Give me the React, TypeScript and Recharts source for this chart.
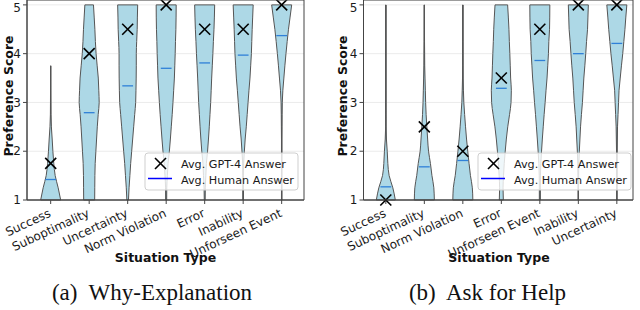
import React from "react";
import {
  Area,
  CartesianGrid,
  ComposedChart,
  ReferenceArea,
  ReferenceDot,
  ReferenceLine,
  XAxis,
  YAxis,
} from "recharts";

const LEVELS = [1, 1.25, 1.5, 1.75, 2, 2.25, 2.5, 2.75, 3, 3.25, 3.5, 3.75, 4, 4.25, 4.5, 4.75, 5];
const SCORE_TICKS = [1, 2, 3, 4, 5];

// (a) Why-Explanation
const WHY_CATS = ["Success", "Suboptimality", "Uncertainty", "Norm Violation", "Error", "Inability", "Unforseen Event"];
const WHY_GPT = [1.75, 4.0, 4.5, 5.0, 4.5, 4.5, 5.0];
const WHY_HUMAN = [1.42, 2.79, 3.34, 3.7, 3.81, 3.97, 4.37];
const WHY_TOP = [3.75, 5, 5, 5, 5, 5, 5];
const WHY_DENSITY: (number | null)[][] = [
  [1.0, 0.75, 0.45, 0.31, 0.22, 0.15, 0.07, 0.03, 0.02, 0.015, 0.01, 0.0, null, null, null, null, null],
  [0.55, 0.56, 0.57, 0.6, 0.67, 0.74, 0.81, 0.9, 1.0, 0.96, 0.91, 0.8, 0.69, 0.62, 0.57, 0.5, 0.43],
  [0.08, 0.14, 0.22, 0.3, 0.4, 0.5, 0.6, 0.7, 0.8, 0.83, 0.85, 0.86, 0.86, 0.9, 0.95, 0.97, 1.0],
  [0.05, 0.06, 0.12, 0.19, 0.32, 0.42, 0.51, 0.6, 0.68, 0.75, 0.82, 0.86, 0.9, 0.93, 0.97, 0.99, 1.0],
  [0.04, 0.06, 0.12, 0.17, 0.29, 0.38, 0.46, 0.53, 0.6, 0.65, 0.7, 0.76, 0.82, 0.87, 0.93, 0.97, 1.0],
  [0.03, 0.03, 0.03, 0.05, 0.12, 0.2, 0.31, 0.4, 0.49, 0.58, 0.68, 0.75, 0.82, 0.86, 0.9, 0.95, 1.0],
  [0.02, 0.02, 0.02, 0.02, 0.02, 0.02, 0.03, 0.04, 0.06, 0.12, 0.22, 0.32, 0.43, 0.55, 0.68, 0.84, 1.0],
];

// (b) Ask for Help
const HELP_CATS = ["Success", "Suboptimality", "Norm Violation", "Error", "Unforseen Event", "Inability", "Uncertainty"];
const HELP_GPT = [1.0, 2.5, 2.0, 3.5, 4.5, 5.0, 5.0];
const HELP_HUMAN = [1.27, 1.68, 1.81, 3.29, 3.86, 4.0, 4.21];
const HELP_TOP = [5, 5, 5, 5, 5, 5, 5];
const HELP_DENSITY: (number | null)[][] = [
  [0.95, 0.7, 0.33, 0.2, 0.14, 0.06, 0.02, 0.015, 0.01, 0.01, 0.01, 0.01, 0.01, 0.01, 0.01, 0.01, 0.01],
  [1.0, 0.95, 0.76, 0.61, 0.42, 0.33, 0.25, 0.18, 0.13, 0.1, 0.07, 0.04, 0.03, 0.02, 0.015, 0.01, 0.01],
  [1.0, 0.95, 0.76, 0.62, 0.49, 0.37, 0.27, 0.18, 0.1, 0.06, 0.03, 0.02, 0.015, 0.01, 0.01, 0.01, 0.01],
  [0.2, 0.17, 0.22, 0.29, 0.39, 0.5, 0.64, 0.82, 0.97, 1.0, 0.93, 0.89, 0.85, 0.8, 0.76, 0.7, 0.63],
  [0.05, 0.05, 0.06, 0.1, 0.17, 0.25, 0.34, 0.43, 0.53, 0.62, 0.72, 0.79, 0.86, 0.9, 0.97, 0.99, 1.0],
  [0.02, 0.02, 0.03, 0.05, 0.1, 0.16, 0.22, 0.31, 0.41, 0.48, 0.55, 0.65, 0.74, 0.82, 0.92, 0.96, 1.0],
  [0.02, 0.02, 0.02, 0.02, 0.03, 0.05, 0.07, 0.12, 0.17, 0.22, 0.34, 0.46, 0.59, 0.7, 0.81, 0.9, 1.0],
];

const HALF = 0.26; // max half-width of a violin, in category units
const FONT = "DejaVu Sans";
const VIOLIN_FILL = "#add8e6";
const VIOLIN_EDGE = "#555";
const HUMAN_BLUE = "#2f80d8";
const SPINE = "#444";

const XMark = ({ cx, cy }: any) => (
  <g stroke="#000" strokeWidth={1.6}>
    <line x1={cx - 5.5} y1={cy - 5.5} x2={cx + 5.5} y2={cy + 5.5} />
    <line x1={cx - 5.5} y1={cy + 5.5} x2={cx + 5.5} y2={cy - 5.5} />
  </g>
);

const SlantTick = ({ x, y, payload, names }: any) => {
  const label = names[Math.round(payload.value) - 1];
  const bx = x + 1;
  const by = y + 10;
  return (
    <text
      x={bx}
      y={by}
      transform={`rotate(-25 ${bx} ${by})`}
      textAnchor="end"
      fontSize={12}
      fontFamily={FONT}
      fill="#1a1a1a"
    >
      {label}
    </text>
  );
};

function ViolinPanel({
  cats,
  gpt,
  human,
  top,
  density,
  xDomain,
  yWidth,
  right,
}: {
  cats: string[];
  gpt: number[];
  human: number[];
  top: number[];
  density: (number | null)[][];
  xDomain: [number, number];
  yWidth: number;
  right: number;
}) {
  const pos = cats.map((_, i) => i + 1);
  // one small table per violin, only where it has data
  const bands = density.map((d, i) =>
    LEVELS.map((y, j) => ({ y, w: d[j] }))
      .filter((r) => r.w != null)
      .map((r) => ({ y: r.y, band: [pos[i] - HALF * (r.w as number), pos[i] + HALF * (r.w as number)] }))
  );

  return (
    <ComposedChart
      layout="vertical"
      width={320}
      height={260}
      data={bands[1]}
      margin={{ top: 0, right, bottom: 0, left: 0 }}
    >
      <CartesianGrid vertical={false} stroke="#ebebeb" />
      {pos.map((c, i) => (
        <ReferenceLine
          key={`w${i}`}
          segment={[{ x: c, y: 1 }, { x: c, y: top[i] }]}
          stroke="#111"
          strokeWidth={1.1}
          zIndex={50}
        />
      ))}
      {pos.map((_, i) => (
        <Area
          key={`v${i}`}
          data={bands[i]}
          dataKey="band"
          type="monotoneY"
          fill={VIOLIN_FILL}
          fillOpacity={1}
          stroke={VIOLIN_EDGE}
          strokeWidth={1}
          dot={false}
          activeDot={false}
          isAnimationActive={false}
        />
      ))}
      {pos.map((c, i) => {
        const d = density[i];
        const lo = d[0] ?? 0;
        const hi = d[LEVELS.indexOf(top[i])] ?? 0;
        return (
          <React.Fragment key={`cap${i}`}>
            <ReferenceLine
              segment={[{ x: c - HALF * lo, y: 1 }, { x: c + HALF * lo, y: 1 }]}
              stroke={VIOLIN_EDGE}
              zIndex={650}
            />
            <ReferenceLine
              segment={[{ x: c - HALF * hi, y: top[i] }, { x: c + HALF * hi, y: top[i] }]}
              stroke={VIOLIN_EDGE}
              zIndex={650}
            />
          </React.Fragment>
        );
      })}
      {pos.map((c, i) => (
        <ReferenceLine
          key={`h${i}`}
          segment={[{ x: c - 0.14, y: human[i] }, { x: c + 0.14, y: human[i] }]}
          stroke={HUMAN_BLUE}
          strokeWidth={1.3}
          zIndex={700}
        />
      ))}
      {pos.map((c, i) => (
        <ReferenceDot key={`g${i}`} x={c} y={gpt[i]} r={5} shape={XMark} zIndex={750} />
      ))}
      <XAxis
        type="number"
        domain={xDomain}
        ticks={pos}
        interval={0}
        allowDataOverflow
        height={60}
        tickSize={4}
        axisLine={{ stroke: SPINE }}
        tickLine={{ stroke: SPINE }}
        tick={(p: any) => <SlantTick {...p} names={cats} />}
      />
      <YAxis
        type="number"
        dataKey="y"
        domain={[1, 5.1]}
        reversed
        ticks={SCORE_TICKS}
        allowDataOverflow
        width={yWidth}
        tickSize={4}
        axisLine={{ stroke: SPINE }}
        tickLine={{ stroke: SPINE }}
        tick={{ fontSize: 12, fill: "#1a1a1a", fontFamily: FONT }}
      />
      <ReferenceArea
        x1={xDomain[0]}
        x2={xDomain[1]}
        y1={1}
        y2={5.1}
        fill="none"
        stroke={SPINE}
        strokeWidth={1}
        zIndex={800}
      />
    </ComposedChart>
  );
}

function LegendBox({ x }: { x: number }) {
  return (
    <g fontFamily={FONT} fontSize={11.2} fill="#1a1a1a">
      <rect x={x} y={153} width={153} height={37} rx={3} fill="rgba(255,255,255,0.8)" stroke="#cfcfcf" />
      <XMark cx={x + 15.5} cy={163.5} />
      <text x={x + 36} y={168}>Avg. GPT-4 Answer</text>
      <line x1={x + 3} y1={178.5} x2={x + 27} y2={178.5} stroke="blue" strokeWidth={1.5} />
      <text x={x + 36} y={184}>Avg. Human Answer</text>
    </g>
  );
}

export default function App() {
  return (
    <div style={{ position: "absolute", left: 0, top: 0, width: 640, height: 310, background: "#fff", fontFamily: FONT }}>
      <div style={{ position: "absolute", left: 0, top: 0 }}>
        <ViolinPanel
          cats={WHY_CATS}
          gpt={WHY_GPT}
          human={WHY_HUMAN}
          top={WHY_TOP}
          density={WHY_DENSITY}
          xDomain={[0.385, 7.58]}
          yWidth={27}
          right={16}
        />
      </div>
      <div style={{ position: "absolute", left: 320, top: 0 }}>
        <ViolinPanel
          cats={HELP_CATS}
          gpt={HELP_GPT}
          human={HELP_HUMAN}
          top={HELP_TOP}
          density={HELP_DENSITY}
          xDomain={[0.42, 7.42]}
          yWidth={43.5}
          right={7}
        />
      </div>
      <svg width={640} height={310} style={{ position: "absolute", left: 0, top: 0, pointerEvents: "none" }}>
        <LegendBox x={145} />
        <LegendBox x={478} />
        <g fontFamily={FONT} fontWeight="bold" fontSize={12.5} fill="#111" textAnchor="middle">
          <text x={12.5} y={96} transform="rotate(-90 12.5 96)">Preference Score</text>
          <text x={346.5} y={96} transform="rotate(-90 346.5 96)">Preference Score</text>
          <text x={165.5} y={262}>Situation Type</text>
          <text x={499} y={262}>Situation Type</text>
        </g>
        <g fontFamily="Liberation Serif" fontSize={23} fill="#111" textAnchor="middle">
          <text x={152} y={300} xmlSpace="preserve">(a)  Why-Explanation</text>
          <text x={487.5} y={300} xmlSpace="preserve">(b)  Ask for Help</text>
        </g>
      </svg>
    </div>
  );
}
